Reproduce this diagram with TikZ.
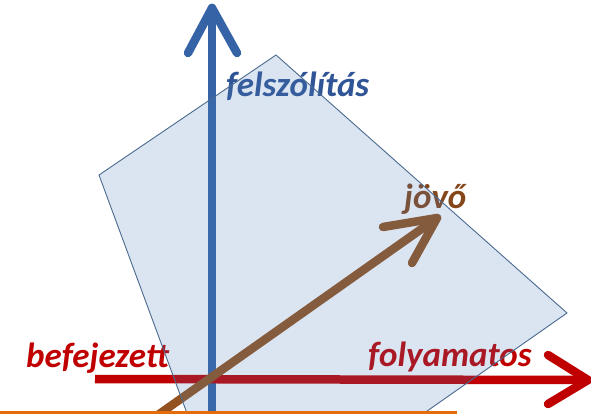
\documentclass[tikz,border=0pt]{standalone}
\usepackage{fontspec}
\setmainfont{Carlito}
\usetikzlibrary{calc}
\definecolor{axblue}{HTML}{3563A6}
\definecolor{txtblue}{HTML}{2F5597}
\definecolor{axred}{HTML}{C00000}
\definecolor{axbrown}{HTML}{93521F}
\definecolor{txtbrown}{HTML}{85461A}
\definecolor{polyfill}{HTML}{4F81BD}
\definecolor{polyline}{HTML}{4A6A8E}
\definecolor{orangeline}{HTML}{E46C0A}
\tikzset{
  axis/.style={line width=8.5pt, line cap=round, line join=round},
  lbl/.style={font=\fontsize{35}{40}\selectfont\bfseries\itshape, inner sep=0pt, anchor=base west},
  plane/.style={fill=polyfill, fill opacity=0.2, draw=polyline, line width=0.9pt}
}
\begin{document}
\begin{tikzpicture}[x=1pt,y=-1pt]
\clip (0,0) rectangle (591,414);
\fill[white] (0,0) rectangle (591,414);
% coordinates
\coordinate (bB) at (212,416);
\coordinate (bT) at (212,8);
\coordinate (rL) at (95,379);
\coordinate (rR) at (588,380);
\coordinate (brA) at (148,422);
\coordinate (brT) at (437,218);
% blue axis
\draw[axis, draw=axblue] (bB) -- (bT);
\draw[axis, draw=axblue] ($(bT)+(-24,45)$) -- (bT) -- ($(bT)+(25,45)$);
% red axis
\draw[axis, draw=axred, line cap=butt] (rL) -- (rR);
\draw[axis, draw=axred] ($(rR)+(-40,-25)$) -- (rR) -- ($(rR)+(-40,24)$);
% brown axis
\draw[axis, draw=axbrown] (brA) -- (brT);
\draw[axis, draw=axbrown] ($(brT)+(-54,9)$) -- (brT) -- ($(brT)+(-25,45)$);
% labels
\node[lbl, text=txtblue] (fel) at (226,97) {felszólítás};
\node[lbl, text=axred] (bef) at (26,367) {befejezett};
\node[lbl, text=axred] (fol) at (368,366) {folyamatos};
\node[lbl, text=txtbrown] (jov) at (404,208) {jövő};
% plane
\draw[plane] (276,55) -- (99,175) -- (188,416) -- (420,416) -- (567,313) -- cycle;
% orange line
\coordinate (oL) at (0,412.5);
\coordinate (oR) at (457,412.5);
\draw[orangeline, line width=3pt] (oL) -- (oR);
\end{tikzpicture}
\end{document}
